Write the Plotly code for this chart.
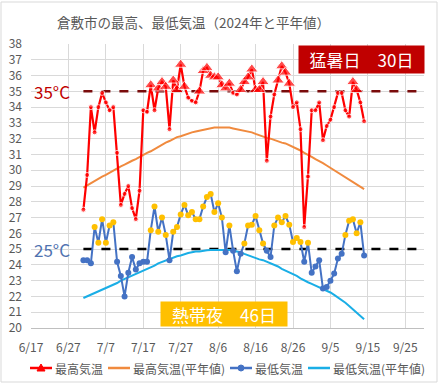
import pandas as pd
import plotly.graph_objects as go

# ---------------- data ----------------
start_date = "2024-07-01"
n_days = 76
dates = pd.date_range(start_date, periods=n_days)

max_temp = [27.5, 29.7, 34.0, 32.4, 34.0, 34.9, 34.3, 33.8, 34.0, 31.1,
            27.8, 28.5, 29.0, 27.6, 26.9, 28.7, 33.8, 33.7, 35.4, 33.8,
            35.2, 35.6, 35.3, 32.6, 35.7, 35.1, 36.7, 35.3, 34.6, 34.4,
            34.3, 35.0, 36.3, 36.5, 36.0, 35.9, 35.9, 35.4, 35.2, 35.5,
            34.9, 34.8, 35.1, 35.6, 35.9, 36.4, 35.1, 35.1, 35.6, 30.6,
            33.4, 34.8, 35.7, 36.6, 36.2, 35.5, 34.0, 34.3, 32.6, 26.4,
            29.6, 33.8, 33.8, 34.3, 31.9, 32.8, 33.2, 34.0, 34.9, 34.9,
            33.8, 33.4, 35.6, 35.1, 34.3, 33.1]

max_normal = [28.9, 29.05, 29.2, 29.3, 29.45, 29.6, 29.7, 29.85, 30.0, 30.1,
              30.25, 30.35, 30.5, 30.6, 30.7, 30.85, 30.95, 31.1, 31.2, 31.35,
              31.5, 31.6, 31.75, 31.85, 32.0, 32.1, 32.15, 32.25, 32.3, 32.4,
              32.45, 32.5, 32.55, 32.6, 32.65, 32.7, 32.7, 32.7, 32.7, 32.7,
              32.65, 32.6, 32.55, 32.5, 32.45, 32.4, 32.3, 32.2, 32.1, 32.05,
              32.0, 31.9, 31.8, 31.75, 31.7, 31.6, 31.5, 31.35, 31.25, 31.1,
              31.0, 30.85, 30.7, 30.6, 30.45, 30.3, 30.15, 30.0, 29.85, 29.7,
              29.55, 29.4, 29.25, 29.1, 28.95, 28.8]

min_temp = [24.3, 24.3, 24.1, 26.4, 25.4, 26.9, 25.4, 26.5, 26.7, 24.2,
            23.3, 22.0, 23.5, 24.5, 23.7, 24.1, 24.2, 24.2, 26.2, 27.7,
            26.1, 27.0, 25.9, 24.3, 26.1, 26.4, 27.2, 27.8, 27.15, 27.35,
            26.9, 26.9, 27.7, 28.3, 28.5, 27.35, 27.9, 27.0, 24.8, 26.5,
            24.9, 23.6, 24.7, 25.35, 26.5, 26.55, 27.1, 26.2, 25.35, 24.9,
            24.5, 26.5, 27.0, 26.7, 27.1, 26.55, 25.45, 25.7, 25.45, 24.2,
            25.4, 23.5, 23.9, 24.3, 22.5, 22.6, 23.0, 23.45, 24.4, 24.7,
            25.9, 26.8, 26.9, 26.0, 26.7, 24.6]

min_normal = [21.9, 22.0, 22.1, 22.2, 22.3, 22.4, 22.5, 22.6, 22.75, 22.85,
              23.0, 23.1, 23.2, 23.3, 23.4, 23.55, 23.65, 23.75, 23.85, 23.95,
              24.1, 24.2, 24.3, 24.4, 24.45, 24.55, 24.6, 24.7, 24.75, 24.8,
              24.85, 24.85, 24.9, 24.93, 24.95, 24.95, 24.95, 24.95, 24.95, 24.95,
              24.9, 24.85, 24.8, 24.7, 24.6, 24.5, 24.45, 24.35, 24.3, 24.2,
              24.1, 24.0, 23.9, 23.75, 23.65, 23.5, 23.4, 23.3, 23.15, 23.0,
              22.9, 22.8, 22.7, 22.6, 22.5, 22.35, 22.25, 22.1, 21.95, 21.75,
              21.6, 21.4, 21.2, 21.0, 20.8, 20.55]

hot_threshold = 35
night_threshold = 25
tick_dates = pd.date_range("2024-06-17", "2024-09-25", freq="10D")
tick_labels = ["6/17", "6/27", "7/7", "7/17", "7/27", "8/6", "8/16", "8/26", "9/5", "9/15", "9/25"]
x_range = ["2024-06-17", "2024-09-30"]
y_range = [20, 38]

series_names = ["最高気温", "最高気温(平年値)", "最低気温", "最低気温(平年値)"]
title_text = "倉敷市の最高、最低気温（2024年と平年値）"
hot_days = sum(1 for v in max_temp if v >= hot_threshold)
tropical_nights = sum(1 for v in min_temp if v >= night_threshold)

# ---------------- styles ----------------
FONT = "Noto Sans CJK JP"
RED = "#FF0000"
ORANGE = "#F08A3E"
BLUE = "#4472C4"
CYAN = "#1AAEE6"
GOLD = "#FFC000"
DARKRED = "#C00000"
GRID = "#D9D9D9"
TEXT = "#595959"
series_colors = [RED, ORANGE, BLUE, CYAN]

W, H = 448, 385
ml, mr, mt, mb = 31, 24, 44, 57
pw, ph = W - ml - mr, H - mt - mb


def px_x(px):
    return (px - ml) / pw


def px_y(py):
    return (H - mb - py) / ph


fig = go.Figure()

# normals
fig.add_trace(go.Scatter(x=dates, y=max_normal, mode="lines", name=series_names[1],
                         line=dict(color=ORANGE, width=2)))
fig.add_trace(go.Scatter(x=dates, y=min_normal, mode="lines", name=series_names[3],
                         line=dict(color=CYAN, width=2)))

# min temps
fig.add_trace(go.Scatter(
    x=dates, y=min_temp, mode="lines+markers", name=series_names[2],
    line=dict(color=BLUE, width=2),
    marker=dict(size=6, color=[GOLD if v >= night_threshold else BLUE for v in min_temp])))

# max temps
fig.add_trace(go.Scatter(
    x=dates, y=max_temp, mode="lines+markers", name=series_names[0],
    line=dict(color=RED, width=2.2),
    marker=dict(symbol=["triangle-up" if v >= hot_threshold else "circle" for v in max_temp],
                size=[11 if v >= hot_threshold else 5 for v in max_temp],
                color=RED)))

# threshold dashed lines
fig.add_shape(type="line", xref="x", yref="y", x0=dates[0], x1=x_range[1],
              y0=hot_threshold, y1=hot_threshold,
              line=dict(color="#7A0C0C", width=2.5, dash="dash"), layer="between")
fig.add_shape(type="line", xref="x", yref="y", x0=dates[0], x1=x_range[1],
              y0=night_threshold, y1=night_threshold,
              line=dict(color="#000000", width=2.5, dash="dash"), layer="between")

# chart border
fig.add_shape(type="rect", xref="paper", yref="paper",
              x0=px_x(1), x1=px_x(437), y0=px_y(382), y1=px_y(2),
              line=dict(color=GRID, width=1))

# title
fig.add_annotation(xref="paper", yref="paper", x=px_x(193), y=px_y(22),
                   xanchor="center", yanchor="middle", showarrow=False, text=title_text,
                   font=dict(family=FONT, size=13.5, color=TEXT))

# manual legend (line sample + marker + label)
legend_y = 368
legend_starts = [30, 108, 230, 308]
for name, color, x0, has_marker in zip(series_names, series_colors, legend_starts,
                                       [True, False, True, False]):
    fig.add_shape(type="line", xref="paper", yref="paper",
                  x0=px_x(x0), x1=px_x(x0 + 22), y0=px_y(legend_y), y1=px_y(legend_y),
                  line=dict(color=color, width=2.5))
    cx = x0 + 11
    if has_marker and color == RED:
        fig.add_shape(type="path", xref="paper", yref="paper",
                      path=f"M {px_x(cx - 4)},{px_y(legend_y + 3)} L {px_x(cx + 4)},{px_y(legend_y + 3)} "
                           f"L {px_x(cx)},{px_y(legend_y - 4)} Z",
                      fillcolor=color, line=dict(color=color, width=1))
    elif has_marker:
        fig.add_shape(type="circle", xref="paper", yref="paper",
                      x0=px_x(cx - 3), x1=px_x(cx + 3), y0=px_y(legend_y + 3), y1=px_y(legend_y - 3),
                      fillcolor=color, line=dict(color=color, width=1))
    fig.add_annotation(xref="paper", yref="paper", x=px_x(x0 + 23), y=px_y(legend_y),
                       xanchor="left", yanchor="middle", showarrow=False, text=name,
                       font=dict(family=FONT, size=12, color=TEXT))

# threshold labels
fig.add_annotation(xref="paper", yref="y", x=px_x(32), y=hot_threshold,
                   xanchor="left", yanchor="middle", showarrow=False,
                   text="35°C", font=dict(family=FONT, size=17, color=DARKRED))
fig.add_annotation(xref="paper", yref="y", x=px_x(32), y=night_threshold,
                   xanchor="left", yanchor="middle", showarrow=False,
                   text="25°C", font=dict(family=FONT, size=17, color="#4F72B0"))

# count boxes
fig.add_annotation(xref="paper", yref="paper", x=px_x(298), y=px_y(45),
                   xanchor="left", yanchor="top", showarrow=False,
                   text=f"猛暑日　{hot_days}日", bgcolor=DARKRED, borderpad=0,
                   width=125, height=27, align="center",
                   font=dict(family=FONT, size=17, color="white"))
fig.add_annotation(xref="paper", yref="paper", x=px_x(160), y=px_y(327),
                   xanchor="left", yanchor="bottom", showarrow=False,
                   text=f"熱帯夜　{tropical_nights}日", bgcolor=GOLD, borderpad=0,
                   width=126, height=24, align="center",
                   font=dict(family=FONT, size=17, color="white"))

fig.update_layout(
    width=W, height=H,
    margin=dict(l=ml, r=mr, t=mt, b=mb, autoexpand=False),
    paper_bgcolor="white", plot_bgcolor="white",
    font=dict(family=FONT, color=TEXT, size=12),
    showlegend=False,
)

fig.update_xaxes(type="date", range=x_range, tickvals=tick_dates, ticktext=tick_labels,
                 showgrid=True, gridcolor=GRID, gridwidth=1, zeroline=False,
                 showline=True, linecolor="#BFBFBF", linewidth=1,
                 ticks="", ticklabelstandoff=9,
                 tickfont=dict(family=FONT, size=12, color=TEXT))
fig.update_yaxes(range=y_range, dtick=1, tick0=20, showgrid=True, gridcolor=GRID,
                 gridwidth=1, zeroline=False, showline=False, ticks="",
                 ticklabelstandoff=8, tickfont=dict(family=FONT, size=12, color=TEXT))

fig.write_html("out.html", config={"displayModeBar": False},
               post_script="document.body.style.margin='0';document.body.style.overflow='hidden';")
